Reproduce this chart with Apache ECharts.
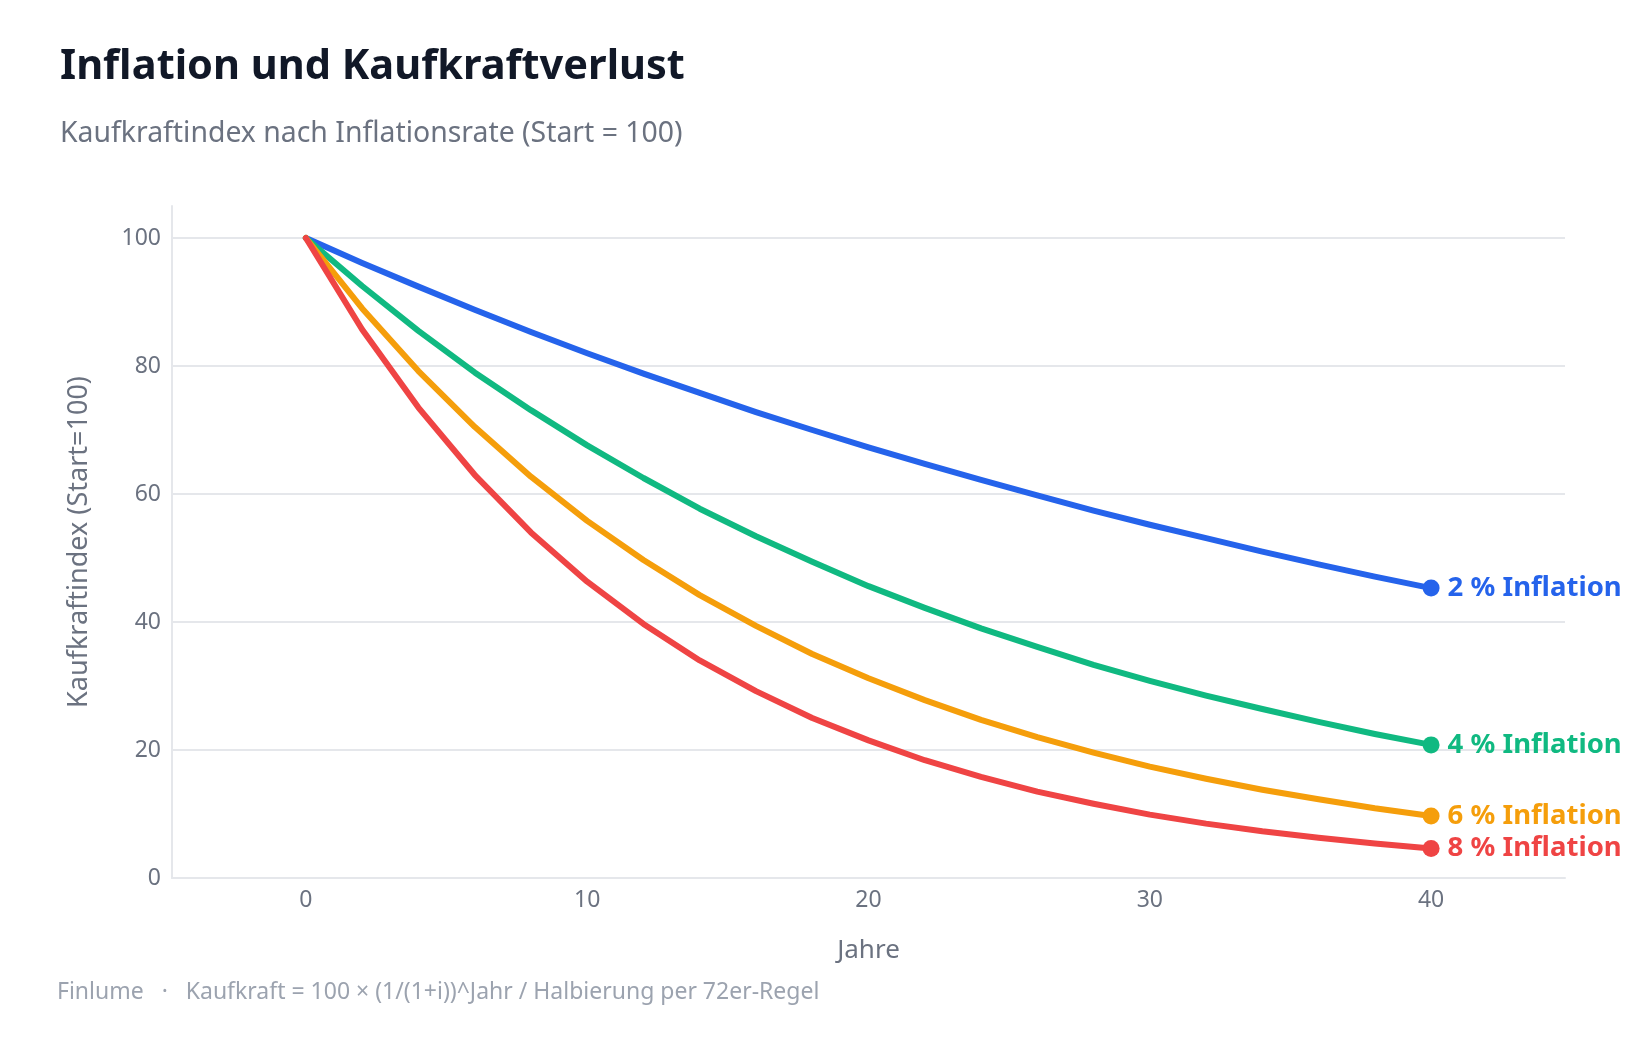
<!DOCTYPE html>
<html>
<head>
<meta charset="utf-8">
<title>Inflation und Kaufkraftverlust</title>
<script src="https://cdn.jsdelivr.net/npm/echarts@6/dist/echarts.min.js"></script>
<style>
  html, body { margin: 0; padding: 0; background: #fff; }
  #chart { width: 1639px; height: 1040px; }
</style>
</head>
<body>
<div id="chart"></div>
<script>
// Jahre (alle 2 Jahre)
const years = [0, 2, 4, 6, 8, 10, 12, 14, 16, 18, 20, 22, 24, 26, 28, 30, 32, 34, 36, 38, 40];

// Kaufkraftindex je Inflationsrate
const infl2 = [100, 96.1, 92.4, 88.8, 85.3, 82.0, 78.8, 75.8, 72.8, 70.0, 67.3, 64.7, 62.2, 59.8, 57.4, 55.2, 53.1, 51.0, 49.0, 47.1, 45.3];
const infl4 = [100, 92.5, 85.5, 79.0, 73.1, 67.6, 62.5, 57.7, 53.4, 49.4, 45.6, 42.2, 39.0, 36.1, 33.3, 30.8, 28.5, 26.4, 24.4, 22.5, 20.8];
const infl6 = [100, 89.0, 79.2, 70.5, 62.7, 55.8, 49.7, 44.2, 39.4, 35.0, 31.2, 27.8, 24.7, 22.0, 19.6, 17.4, 15.5, 13.8, 12.3, 10.9, 9.7];
const infl8 = [100, 85.7, 73.5, 63.0, 54.0, 46.3, 39.7, 34.0, 29.2, 25.0, 21.5, 18.4, 15.8, 13.5, 11.6, 9.9, 8.5, 7.3, 6.3, 5.4, 4.6];

const seriesNames = ['2 % Inflation', '4 % Inflation', '6 % Inflation', '8 % Inflation'];
const seriesValues = [infl2, infl4, infl6, infl8];
const colors = ['#2563eb', '#10b981', '#f59e0b', '#ef4444'];

const xTicks = [0, 10, 20, 30, 40];
const yTicks = [0, 20, 40, 60, 80, 100];

const FONT = '"Noto Sans", "Open Sans", sans-serif';

const chart = echarts.init(document.getElementById('chart'), null, { renderer: 'canvas' });

const series = seriesValues.map((vals, i) => {
  const last = vals.length - 1;
  return {
    name: seriesNames[i],
    type: 'line',
    data: years.map((y, k) => {
      if (k === last) {
        // Endpunkt mit Beschriftung
        return {
          value: [y, vals[k]],
          symbol: 'circle',
          symbolSize: 17,
          label: {
            show: true,
            position: 'right',
            distance: 8,
            formatter: seriesNames[i],
            color: colors[i],
            fontFamily: FONT,
            fontSize: 27.5,
            fontWeight: 'bold'
          }
        };
      }
      return [y, vals[k]];
    }),
    symbol: 'none',
    showSymbol: true,
    lineStyle: { color: colors[i], width: 6, cap: 'round', join: 'round' },
    itemStyle: { color: colors[i] },
    emphasis: { disabled: true },
    animation: false,
    z: 2 + i
  };
});

const option = {
  backgroundColor: '#ffffff',
  title: [
    {
      text: 'Inflation und Kaufkraftverlust',
      left: 55,
      top: 41,
      textStyle: { fontFamily: FONT, fontSize: 41.5, fontWeight: 'bold', color: '#111827' }
    },
    {
      text: 'Kaufkraftindex nach Inflationsrate (Start = 100)',
      left: 55,
      top: 115,
      textStyle: { fontFamily: FONT, fontSize: 28.4, fontWeight: 'normal', color: '#6b7280' }
    }
  ],
  graphic: [
    {
      type: 'text',
      left: 57,
      top: 981,
      style: {
        text: 'Finlume   ·   Kaufkraft = 100 × (1/(1+i))^Jahr / Halbierung per 72er-Regel',
        fill: '#9ca3af',
        font: '23px ' + FONT
      }
    }
  ],
  grid: { left: 172, right: 74, top: 206, bottom: 162, containLabel: false },
  xAxis: {
    type: 'value',
    min: -4.76,
    max: 44.76,
    name: 'Jahre',
    nameLocation: 'middle',
    nameGap: 60,
    nameTextStyle: { fontFamily: FONT, fontSize: 26, color: '#6b7280' },
    axisLine: { show: true, onZero: false, lineStyle: { color: '#e5e7eb', width: 2 } },
    axisTick: { show: false, customValues: xTicks },
    splitLine: { show: false },
    axisLabel: {
      customValues: xTicks,
      margin: 11,
      fontFamily: FONT,
      fontSize: 23,
      color: '#6b7280'
    }
  },
  yAxis: {
    type: 'value',
    min: 0,
    max: 105,
    name: 'Kaufkraftindex (Start=100)',
    nameLocation: 'middle',
    nameGap: 79,
    nameTextStyle: { fontFamily: FONT, fontSize: 27, color: '#6b7280' },
    axisLine: { show: true, onZero: false, lineStyle: { color: '#e5e7eb', width: 2 } },
    axisTick: { show: false, customValues: yTicks },
    splitLine: { show: true, lineStyle: { color: '#e5e7eb', width: 2 } },
    axisLabel: {
      customValues: yTicks,
      margin: 11,
      fontFamily: FONT,
      fontSize: 23,
      color: '#6b7280'
    }
  },
  series: series
};

chart.setOption(option);
</script>
</body>
</html>
